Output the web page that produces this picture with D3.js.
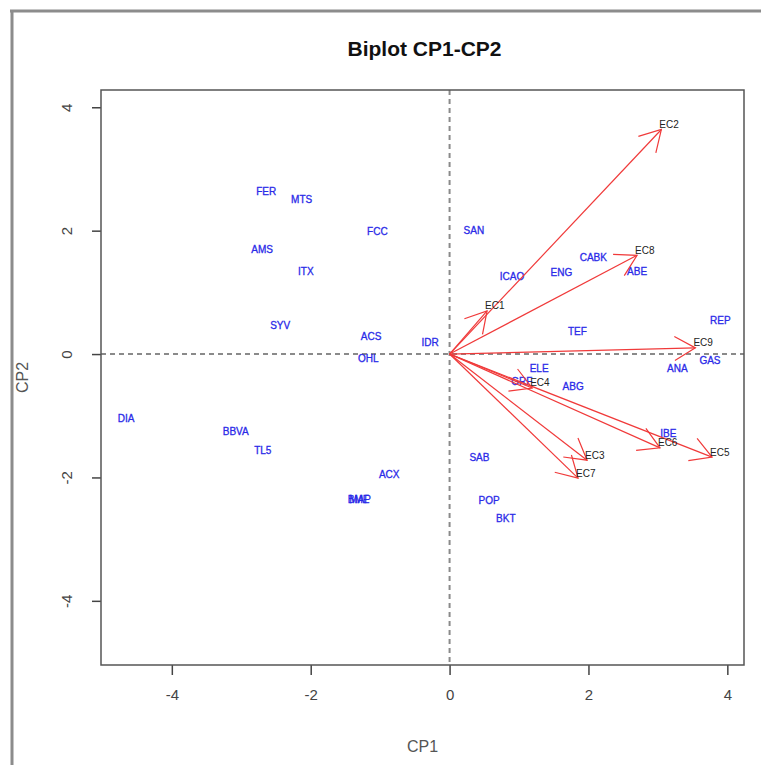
<!DOCTYPE html>
<html>
<head>
<meta charset="utf-8">
<script src="https://cdn.jsdelivr.net/npm/d3@7"></script>
<style>
  html, body { margin: 0; padding: 0; background: #fff; }
  svg { display: block; font-family: "Liberation Sans", Arial, sans-serif; }
</style>
</head>
<body>
<svg id="chart" width="761" height="765"></svg>
<script>
// ---- data ----
const companyLabels = ["FER","MTS","AMS","ITX","SYV","FCC","SAN","ICAO","ACS","OHL","IDR",
  "CABK","ENG","ABE","TEF","REP","ANA","GAS","ELE","GRF","ABG",
  "DIA","BBVA","TL5","MAP","BME","ACX","IBE","SAB","POP","BKT"];
const companyCP1 = [-2.64,-2.13,-2.70,-2.07,-2.44,-1.04,0.35,0.90,-1.13,-1.17,-0.28,
  2.07,1.61,2.70,1.84,3.90,3.28,3.75,1.29,1.04,1.78,
  -4.66,-3.08,-2.69,-1.29,-1.31,-0.87,3.15,0.43,0.57,0.81];
const companyCP2 = [2.63,2.51,1.70,1.34,0.47,1.99,2.01,1.25,0.29,-0.08,0.18,
  1.57,1.33,1.34,0.37,0.55,-0.24,-0.11,-0.24,-0.44,-0.53,
  -1.05,-1.26,-1.57,-2.35,-2.36,-1.96,-1.28,-1.68,-2.38,-2.66];

const varLabels = ["EC1","EC2","EC3","EC4","EC5","EC6","EC7","EC8","EC9"];
const varCP1 = [0.54, 3.05, 1.98, 1.19, 3.78, 3.03, 1.85, 2.70, 3.54];
const varCP2 = [0.70, 3.64, -1.72, -0.55, -1.67, -1.52, -2.01, 1.60, 0.10];

const xTicks = [-4, -2, 0, 2, 4];
const yTicks = [-4, -2, 0, 2, 4];
const titleText = "Biplot CP1-CP2";
const xTitle = "CP1";
const yTitle = "CP2";

// ---- layout ----
const box = { left: 101, right: 744, top: 90, bottom: 665 };
const svg = d3.select("#chart");

const x = d3.scaleLinear().domain([-5.02, 4.24]).range([box.left, box.right]);
const y = d3.scaleLinear().domain([-5.04, 4.28]).range([box.bottom, box.top]);

// outer window frame
svg.append("line").attr("x1", 10).attr("x2", 761).attr("y1", 11).attr("y2", 11)
  .attr("stroke", "#8c8c8c").attr("stroke-width", 3);
svg.append("line").attr("x1", 12).attr("x2", 12).attr("y1", 10).attr("y2", 765)
  .attr("stroke", "#8c8c8c").attr("stroke-width", 3);

// title
svg.append("text").attr("x", (box.left + box.right) / 2 + 2).attr("y", 56)
  .attr("text-anchor", "middle").attr("font-weight", "bold").attr("font-size", 21)
  .attr("fill", "#111").text(titleText);

// reference dashed lines
svg.append("line").attr("x1", x(0)).attr("x2", x(0)).attr("y1", box.top).attr("y2", box.bottom)
  .attr("stroke", "#8a8a8a").attr("stroke-width", 2).attr("stroke-dasharray", "5,4");
svg.append("line").attr("x1", box.left).attr("x2", box.right).attr("y1", y(0)).attr("y2", y(0))
  .attr("stroke", "#8a8a8a").attr("stroke-width", 2).attr("stroke-dasharray", "5,4");

// axes
const xAxis = d3.axisBottom(x).tickValues(xTicks).tickSize(10).tickPadding(14)
  .tickFormat(d => d < 0 ? "-" + Math.abs(d) : String(d));
const gx = svg.append("g").attr("transform", `translate(0,${box.bottom})`).call(xAxis);
gx.select(".domain").remove();
gx.selectAll(".tick line").attr("stroke", "#444").attr("stroke-width", 1.5);
gx.selectAll(".tick text").attr("font-size", 15).attr("fill", "#444")
  .attr("font-family", "Liberation Sans, Arial, sans-serif");

const yAxis = d3.axisLeft(y).tickValues(yTicks).tickSize(9).tickPadding(0)
  .tickFormat(d => d < 0 ? "-" + Math.abs(d) : String(d));
const gy = svg.append("g").attr("transform", `translate(${box.left},0)`).call(yAxis);
gy.select(".domain").remove();
gy.selectAll(".tick line").attr("stroke", "#444").attr("stroke-width", 1.5);
gy.selectAll(".tick text").attr("font-size", 15).attr("fill", "#444")
  .attr("font-family", "Liberation Sans, Arial, sans-serif")
  .attr("text-anchor", "middle").attr("dy", 0).attr("x", 0)
  .attr("transform", "translate(-33,0) rotate(-90)")
  .attr("dominant-baseline", "middle");

// plot box
svg.append("rect").attr("x", box.left).attr("y", box.top)
  .attr("width", box.right - box.left).attr("height", box.bottom - box.top)
  .attr("fill", "none").attr("stroke", "#555").attr("stroke-width", 1.5);

// axis titles
svg.append("text").attr("x", (box.left + box.right) / 2).attr("y", 752)
  .attr("text-anchor", "middle").attr("font-size", 16).attr("fill", "#555").text(xTitle);
svg.append("text").attr("transform", `translate(28,${(box.top + box.bottom) / 2}) rotate(-90)`)
  .attr("text-anchor", "middle").attr("font-size", 16).attr("fill", "#555").text(yTitle);

// company labels
svg.append("g").selectAll("text").data(companyLabels).join("text")
  .attr("x", (d, i) => x(companyCP1[i]))
  .attr("y", (d, i) => y(companyCP2[i]))
  .attr("text-anchor", "middle").attr("dominant-baseline", "central")
  .attr("font-size", 10).attr("fill", "#2a2ae8")
  .attr("stroke", "#2a2ae8").attr("stroke-width", 0.3)
  .text(d => d);

// arrows
const headLen = 24, headAng = Math.PI / 6;
const ox = x(0), oy = y(0);
const ag = svg.append("g").attr("stroke", "#f03a3a").attr("stroke-width", 1.2).attr("fill", "none");
varLabels.forEach((lab, i) => {
  const tx = x(varCP1[i]), ty = y(varCP2[i]);
  const ang = Math.atan2(ty - oy, tx - ox);
  ag.append("line").attr("x1", ox).attr("y1", oy).attr("x2", tx).attr("y2", ty);
  const p = d3.path();
  p.moveTo(tx - headLen * Math.cos(ang - headAng), ty - headLen * Math.sin(ang - headAng));
  p.lineTo(tx, ty);
  p.lineTo(tx - headLen * Math.cos(ang + headAng), ty - headLen * Math.sin(ang + headAng));
  ag.append("path").attr("d", p.toString());
});

// arrow labels
svg.append("g").selectAll("text").data(varLabels).join("text")
  .attr("x", (d, i) => x(varCP1[i]) - 2)
  .attr("y", (d, i) => y(varCP2[i]) - 5)
  .attr("dominant-baseline", "central")
  .attr("font-size", 10).attr("fill", "#222")
  .text(d => d);
</script>
</body>
</html>
